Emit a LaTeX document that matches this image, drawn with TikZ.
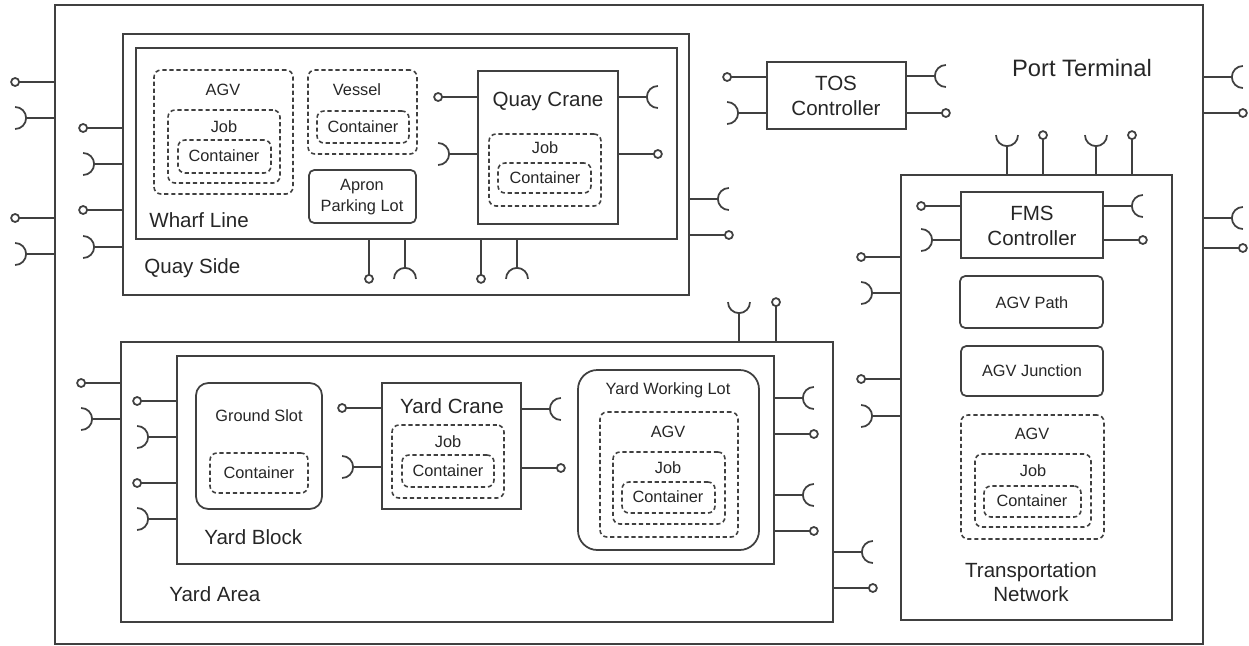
\documentclass[tikz,border=0pt]{standalone}
\usepackage{fontspec}
\setmainfont{Liberation Sans}
\usetikzlibrary{fit}

\tikzset{
  wire/.style={line width=1pt, draw=black!75},
  blk/.style={wire, inner sep=0pt},
  rblk/.style={blk, rounded corners=3pt},
  dblk/.style={inner sep=0pt, draw=black!75, line width=0.9pt,
    dash pattern=on 2.4pt off 1.6pt, rounded corners=4pt},
  big/.style={text=black!85, font=\fontsize{11.7}{14}\selectfont, align=center, inner sep=0pt},
  small/.style={text=black!85, font=\fontsize{9.3}{11.5}\selectfont, align=center, inner sep=0pt},
  % provided / required interfaces
  lolli/.pic={\draw[wire] (0,0) -- (35,0); \draw[wire] (39,0) circle (4);},
  sock/.pic={\draw[wire] (0,0) -- (28,0);
    \draw[wire] (39,11) arc[start angle=90, end angle=270, radius=11];},
}

\begin{document}
\begin{tikzpicture}[x=0.02cm, y=-0.02cm]
  \useasboundingbox (0,0) rectangle (1249,646);

  % terminal
  \node[blk, fit={(55,5) (1203,644)}] (port) {};
  \node[big, font=\fontsize{13.5}{16}\selectfont] (port-l) at (1082,68) {Port Terminal};

  % quay side
  \node[blk, fit={(123,34) (689,295)}] (quay) {};
  \node[big, anchor=west] (quay-l) at (144,268) {Quay Side};
  \node[blk, fit={(136,48) (677,239)}] (wharf) {};
  \node[big, anchor=west] (wharf-l) at (149,220) {Wharf Line};

  \node[dblk, fit={(154,70) (293,194)}] (wagv) {};
  \node[dblk, fit={(168,110) (280,183)}] (wjob) {};
  \node[dblk, fit={(178,140) (271,173)}] (wcont) {};
  \node[small] (wagv-l) at (223,90) {AGV};
  \node[small] (wjob-l) at (224,127) {Job};
  \node[small] (wcont-l) at (224,156) {Container};

  \node[dblk, fit={(308,70) (417,154)}] (vessel) {};
  \node[dblk, fit={(317,111) (409,143)}] (vcont) {};
  \node[small] (vessel-l) at (357,90) {Vessel};
  \node[small] (vcont-l) at (363,127) {Container};

  \node[rblk, fit={(309,170) (416,223)}] (apron) {};
  \node[small] (apron-l) at (362,197) {Apron\\Parking Lot};

  \node[blk, fit={(478,71) (618,224)}] (qcrane) {};
  \node[dblk, fit={(489,134) (601,206)}] (qjob) {};
  \node[dblk, fit={(498,163) (591,193)}] (qcont) {};
  \node[big] (qcrane-l) at (548,101) {Quay Crane};
  \node[small] (qjob-l) at (545,148) {Job};
  \node[small] (qcont-l) at (545,178) {Container};

  % controllers
  \node[blk, fit={(767,62) (906,129)}] (tos) {};
  \node[big] (tos-l) at (836,96) {TOS\\Controller};

  % transportation network
  \node[blk, fit={(901,175) (1172,620)}] (trans) {};
  \node[big] (trans-l) at (1031,582) {Transportation\\Network};
  \node[blk, fit={(961,192) (1103,258)}] (fms) {};
  \node[big] (fms-l) at (1032,226) {FMS\\Controller};
  \node[rblk, fit={(960,276) (1103,328)}] (agvpath) {};
  \node[small] (agvpath-l) at (1032,303) {AGV Path};
  \node[rblk, fit={(961,346) (1103,396)}] (junction) {};
  \node[small] (junction-l) at (1032,371) {AGV Junction};
  \node[dblk, fit={(961,415) (1104,539)}] (tagv) {};
  \node[dblk, fit={(975,454) (1091,527)}] (tjob) {};
  \node[dblk, fit={(984,486) (1081,517)}] (tcont) {};
  \node[small] (tagv-l) at (1032,434) {AGV};
  \node[small] (tjob-l) at (1033,471) {Job};
  \node[small] (tcont-l) at (1032,501) {Container};

  % yard area
  \node[blk, fit={(121,342) (833,622)}] (yard) {};
  \node[big, anchor=west] (yard-l) at (169,594) {Yard Area};
  \node[blk, fit={(177,356) (774,564)}] (block) {};
  \node[big, anchor=west] (block-l) at (204,537) {Yard Block};

  \node[blk, rounded corners=7pt, fit={(196,383) (322,509)}] (slot) {};
  \node[dblk, fit={(210,453) (308,493)}] (scont) {};
  \node[small] (slot-l) at (259,416) {Ground Slot};
  \node[small] (scont-l) at (259,473) {Container};

  \node[blk, fit={(382,383) (521,509)}] (ycrane) {};
  \node[dblk, fit={(392,425) (504,498)}] (yjob) {};
  \node[dblk, fit={(402,455) (494,487)}] (ycont) {};
  \node[big] (ycrane-l) at (452,406) {Yard Crane};
  \node[small] (yjob-l) at (448,442) {Job};
  \node[small] (ycont-l) at (448,471) {Container};

  \node[blk, rounded corners=11pt, fit={(578,370) (759,550)}] (lot) {};
  \node[dblk, fit={(600,412) (738,537)}] (lagv) {};
  \node[dblk, fit={(613,452) (725,524)}] (ljob) {};
  \node[dblk, fit={(622,482) (715,513)}] (lcont) {};
  \node[small] (lot-l) at (668,390) {Yard Working Lot};
  \node[small] (lagv-l) at (668,432) {AGV};
  \node[small] (ljob-l) at (668,468) {Job};
  \node[small] (lcont-l) at (668,497) {Container};

  % interfaces
  \foreach \y in {82,218} \pic[rotate=180] at (port.west |- 0,\y) {lolli};
  \foreach \y in {118,254} \pic[rotate=180] at (port.west |- 0,\y) {sock};
  \foreach \y in {77,218} \pic at (port.east |- 0,\y) {sock};
  \foreach \y in {113,248} \pic at (port.east |- 0,\y) {lolli};

  \foreach \y in {128,210} \pic[rotate=180] at (quay.west |- 0,\y) {lolli};
  \foreach \y in {164,247} \pic[rotate=180] at (quay.west |- 0,\y) {sock};
  \pic at (quay.east |- 0,199) {sock};
  \pic at (quay.east |- 0,235) {lolli};

  \foreach \x in {369,481} \pic[rotate=-90] at (wharf.south -| \x,0) {lolli};
  \foreach \x in {405,517} \pic[rotate=-90] at (wharf.south -| \x,0) {sock};

  \pic[rotate=180] at (qcrane.west |- 0,97) {lolli};
  \pic[rotate=180] at (qcrane.west |- 0,154) {sock};
  \pic at (qcrane.east |- 0,97) {sock};
  \pic at (qcrane.east |- 0,154) {lolli};

  \pic[rotate=180] at (tos.west |- 0,77) {lolli};
  \pic[rotate=180] at (tos.west |- 0,113) {sock};
  \pic at (tos.east |- 0,76) {sock};
  \pic at (tos.east |- 0,113) {lolli};

  \foreach \x in {1007,1096} \pic[rotate=90] at (trans.north -| \x,0) {sock};
  \foreach \x in {1043,1132} \pic[rotate=90] at (trans.north -| \x,0) {lolli};
  \foreach \y in {257,379} \pic[rotate=180] at (trans.west |- 0,\y) {lolli};
  \foreach \y in {293,416} \pic[rotate=180] at (trans.west |- 0,\y) {sock};

  \pic[rotate=180] at (fms.west |- 0,206) {lolli};
  \pic[rotate=180] at (fms.west |- 0,240) {sock};
  \pic at (fms.east |- 0,206) {sock};
  \pic at (fms.east |- 0,240) {lolli};

  \pic[rotate=90] at (yard.north -| 739,0) {sock};
  \pic[rotate=90] at (yard.north -| 776,0) {lolli};
  \pic[rotate=180] at (yard.west |- 0,383) {lolli};
  \pic[rotate=180] at (yard.west |- 0,419) {sock};
  \pic at (yard.east |- 0,552) {sock};
  \pic at (yard.east |- 0,588) {lolli};

  \foreach \y in {401,483} \pic[rotate=180] at (block.west |- 0,\y) {lolli};
  \foreach \y in {437,519} \pic[rotate=180] at (block.west |- 0,\y) {sock};
  \foreach \y in {398,495} \pic at (block.east |- 0,\y) {sock};
  \foreach \y in {434,531} \pic at (block.east |- 0,\y) {lolli};

  \pic[rotate=180] at (ycrane.west |- 0,408) {lolli};
  \pic[rotate=180] at (ycrane.west |- 0,467) {sock};
  \pic at (ycrane.east |- 0,409) {sock};
  \pic at (ycrane.east |- 0,468) {lolli};
\end{tikzpicture}
\end{document}
